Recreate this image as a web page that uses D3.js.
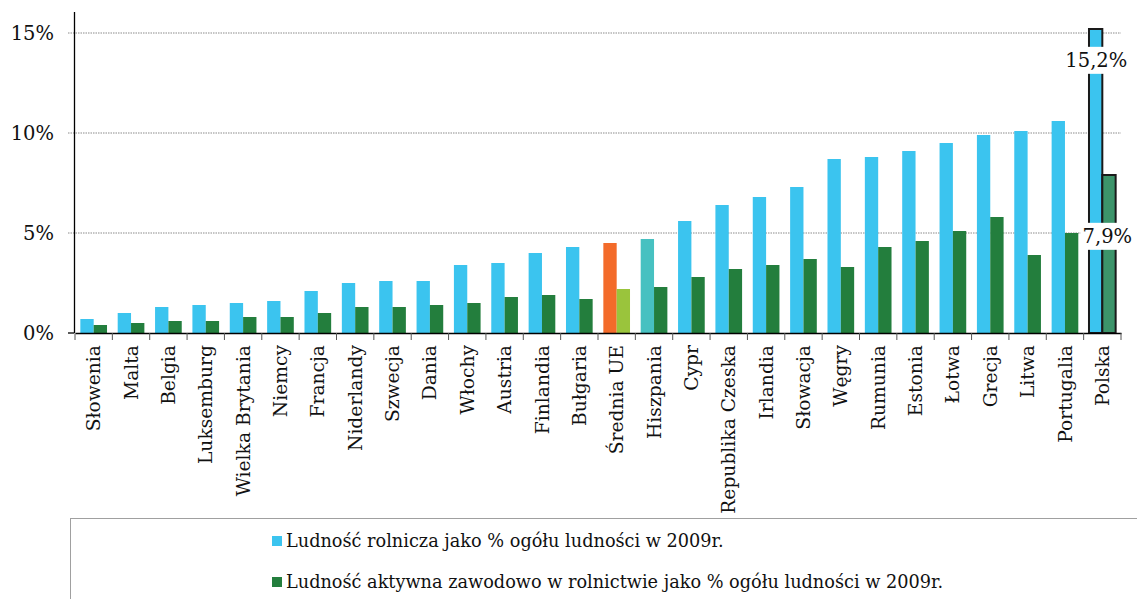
<!DOCTYPE html>
<html><head><meta charset="utf-8">
<script src="https://cdn.jsdelivr.net/npm/d3@7"></script>
<style>body{margin:0;background:#fff}svg{display:block}</style>
</head><body>
<svg id="c" width="1137" height="599"></svg>
<script>
const categories = ["Słowenia","Malta","Belgia","Luksemburg","Wielka Brytania","Niemcy","Francja","Niderlandy","Szwecja","Dania","Włochy","Austria","Finlandia","Bułgaria","Średnia UE","Hiszpania","Cypr","Republika Czeska","Irlandia","Słowacja","Węgry","Rumunia","Estonia","Łotwa","Grecja","Litwa","Portugalia","Polska"];
const rural = [0.7,1.0,1.3,1.4,1.5,1.6,2.1,2.5,2.6,2.6,3.4,3.5,4.0,4.3,4.5,4.7,5.6,6.4,6.8,7.3,8.7,8.8,9.1,9.5,9.9,10.1,10.6,15.2];
const active = [0.4,0.5,0.6,0.6,0.8,0.8,1.0,1.3,1.3,1.4,1.5,1.8,1.9,1.7,2.2,2.3,2.8,3.2,3.4,3.7,3.3,4.3,4.6,5.1,5.8,3.9,5.0,7.9];
const yTicks = [0,5,10,15];
const seriesNames = ["Ludność rolnicza jako % ogółu ludności w 2009r.","Ludność aktywna zawodowo w rolnictwie jako % ogółu ludności w 2009r."];

const FONT = "DejaVu Serif";
const svg = d3.select("#c");
const x0 = 75, x1 = 1121, yTop = 12, yBase = 333;
const x = d3.scaleBand().domain(categories).range([x0, x1]).paddingInner(0).paddingOuter(0);
const y = d3.scaleLinear().domain([0, (yBase - yTop) / 20]).range([yBase, yTop]);
const bw = x.bandwidth() * 0.357;

const colBlue = c => c === "Średnia UE" ? "#f36b2a" : c === "Hiszpania" ? "#47c1c1" : "#3bc4ef";
const colGreen = c => c === "Średnia UE" ? "#9ac43c" : c === "Polska" ? "#3c946a" : "#237e3d";

// gridlines
svg.append("g").selectAll("line").data(yTicks.filter(d => d > 0)).join("line")
  .attr("x1", 68).attr("x2", x1).attr("y1", d => y(d)).attr("y2", d => y(d))
  .attr("stroke", "#8a8a8a").attr("stroke-width", 1).attr("stroke-dasharray", "1.5,1");

// y labels
svg.append("g").selectAll("text").data(yTicks).join("text")
  .attr("x", 54).attr("y", d => y(d)).attr("dy", "0.35em").attr("text-anchor", "end")
  .attr("font-family", FONT).attr("font-size", 19.5).attr("fill", "#111")
  .text(d => d + "%");

// bars
const g = svg.append("g");
categories.forEach((c, i) => {
  const cx = x(c) + x.bandwidth() / 2;
  const isPl = c === "Polska";
  g.append("rect").attr("x", cx - bw).attr("width", bw)
    .attr("y", y(rural[i])).attr("height", y(0) - y(rural[i]))
    .attr("fill", colBlue(c))
    .attr("stroke", isPl ? "#1a1a1a" : "none").attr("stroke-width", isPl ? 2 : 0);
  g.append("rect").attr("x", cx).attr("width", bw)
    .attr("y", y(active[i])).attr("height", y(0) - y(active[i]))
    .attr("fill", colGreen(c))
    .attr("stroke", isPl ? "#1a1a1a" : "none").attr("stroke-width", isPl ? 2 : 0);
});

// y axis line
svg.append("line").attr("x1", 74.5).attr("x2", 74.5).attr("y1", yTop).attr("y2", yBase)
  .attr("stroke", "#000").attr("stroke-width", 1.3);
svg.append("line").attr("x1", 68).attr("x2", 74).attr("y1", yBase).attr("y2", yBase)
  .attr("stroke", "#000").attr("stroke-width", 1.3);
// x axis
const xAxis = d3.axisBottom(x).tickSize(0).tickFormat("");
const gx = svg.append("g").attr("transform", `translate(0,${yBase})`).call(xAxis);
gx.select(".domain").attr("stroke", "#000").attr("stroke-width", 1.5);
svg.append("g").selectAll("line").data(categories.concat(["__end"])).join("line")
  .attr("x1", (d, i) => x0 + i * x.bandwidth()).attr("x2", (d, i) => x0 + i * x.bandwidth())
  .attr("y1", yBase).attr("y2", yBase + 7).attr("stroke", "#555").attr("stroke-width", 1);

// category labels
svg.append("g").selectAll("text").data(categories).join("text")
  .attr("transform", d => `translate(${x(d) + x.bandwidth() / 2},${yBase + 12}) rotate(-90)`)
  .attr("text-anchor", "end").attr("dy", "0.35em")
  .attr("font-family", FONT).attr("font-size", 18.7).attr("fill", "#111")
  .text(d => d);

// Polska data labels
const pl = categories.length - 1;
const plx = x("Polska") + x.bandwidth() / 2;
[[rural[pl], 60, plx - 6], [active[pl], 236, plx + 5]].forEach(([v, ly, lx]) => {
  const t = svg.append("text").attr("x", lx).attr("y", ly).attr("dy", "0.35em")
    .attr("text-anchor", "middle").attr("font-family", FONT).attr("font-size", 19.5).attr("fill", "#111")
    .text(d3.format(".1f")(v).replace(".", ",") + "%");
  const bb = t.node().getBBox();
  svg.insert("rect", () => t.node()).attr("x", bb.x - 2).attr("y", bb.y - 2)
    .attr("width", bb.width + 4).attr("height", bb.height + 4).attr("fill", "#fff");
});

// legend
svg.append("rect").attr("x", 70.5).attr("y", 518.5).attr("width", 1080).attr("height", 100)
  .attr("fill", "#fff").attr("stroke", "#a0a0a0").attr("stroke-width", 1);
const lg = svg.append("g");
seriesNames.forEach((n, i) => {
  const ly = 541 + i * 41;
  lg.append("rect").attr("x", 272).attr("y", ly - 5).attr("width", 10).attr("height", 10)
    .attr("fill", i === 0 ? "#3bc4ef" : "#237e3d");
  lg.append("text").attr("x", 286).attr("y", ly).attr("dy", "0.35em")
    .attr("font-family", FONT).attr("font-size", 17.7).attr("fill", "#111").text(n);
});
</script>
</body></html>
